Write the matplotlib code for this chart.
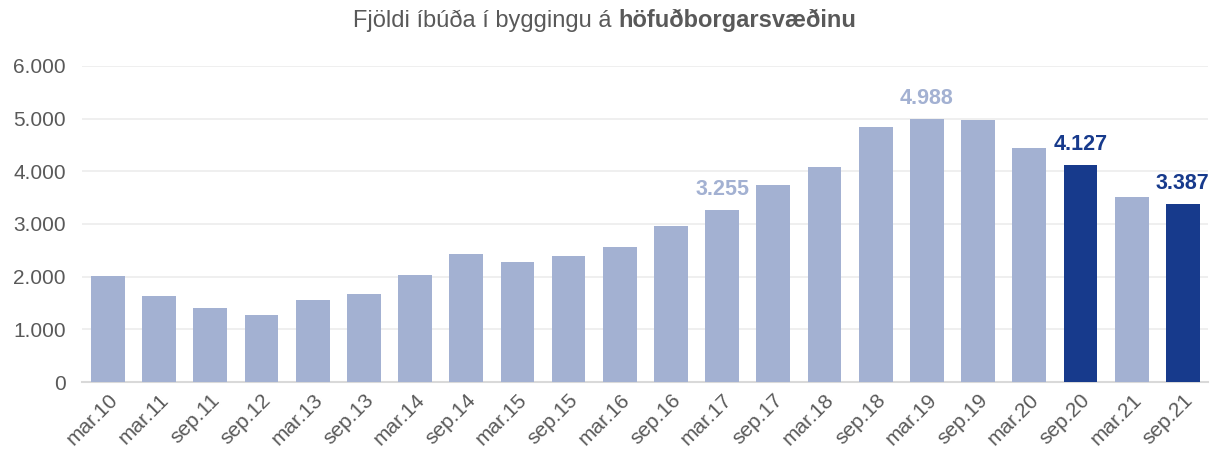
import matplotlib.pyplot as plt

periods = ['mar.10', 'mar.11', 'sep.11', 'sep.12', 'mar.13', 'sep.13', 'mar.14',
           'sep.14', 'mar.15', 'sep.15', 'mar.16', 'sep.16', 'mar.17', 'sep.17',
           'mar.18', 'sep.18', 'mar.19', 'sep.19', 'mar.20', 'sep.20', 'mar.21',
           'sep.21']
values = [2010, 1640, 1413, 1280, 1565, 1671, 2030, 2430, 2273, 2390, 2557, 2956,
          3255, 3730, 4089, 4842, 4988, 4980, 4443, 4127, 3520, 3387]
highlighted = ['sep.20', 'sep.21']
labelled = ['mar.17', 'mar.19', 'sep.20', 'sep.21']

LIGHT = '#a3b1d2'
DARK = '#173a8c'
GREY = '#595959'

plt.rcParams['font.family'] = ['Liberation Sans', 'DejaVu Sans']

fig = plt.figure(figsize=(12.2, 4.57), dpi=100)
ax = fig.add_axes([0.0675, 0.164, 0.923, 0.692])

colors = [DARK if p in highlighted else LIGHT for p in periods]
x = range(len(periods))
ax.bar(x, values, width=0.66, color=colors, zorder=3)

# value labels over the chosen bars
for i, (p, v) in enumerate(zip(periods, values)):
    if p in labelled:
        c = DARK if p in highlighted else LIGHT
        ax.text(i, v + 190, f'{v:,}'.replace(',', '.'), ha='center', va='bottom',
                fontsize=15.5, fontweight='bold', color=c)

ax.set_xlim(-0.5, len(periods) - 0.5)
ax.set_ylim(0, 6000)
ax.set_yticks(range(0, 6001, 1000))
ax.set_yticklabels([f'{t:,}'.replace(',', '.') for t in range(0, 6001, 1000)])
ax.set_xticks(list(x))
ax.set_xticklabels(periods, rotation=45, ha='right', rotation_mode='anchor')

ax.grid(axis='y', color='#ececec', linewidth=1.2, zorder=0)
for s in ['top', 'right', 'left']:
    ax.spines[s].set_visible(False)
ax.spines['bottom'].set_color('#d9d9d9')
ax.spines['bottom'].set_linewidth(1.5)
ax.tick_params(axis='both', length=0, colors=GREY, labelsize=15)
ax.tick_params(axis='y', pad=12)
ax.tick_params(axis='x', pad=6)

fig.text(0.507, 0.955, 'Fjöldi íbúða í byggingu á ', ha='right', va='center',
         fontsize=17, color=GREY)
fig.text(0.507, 0.955, 'höfuðborgarsvæðinu', ha='left', va='center',
         fontsize=17, color=GREY, fontweight='bold')

fig.savefig('out.png', dpi=100)
